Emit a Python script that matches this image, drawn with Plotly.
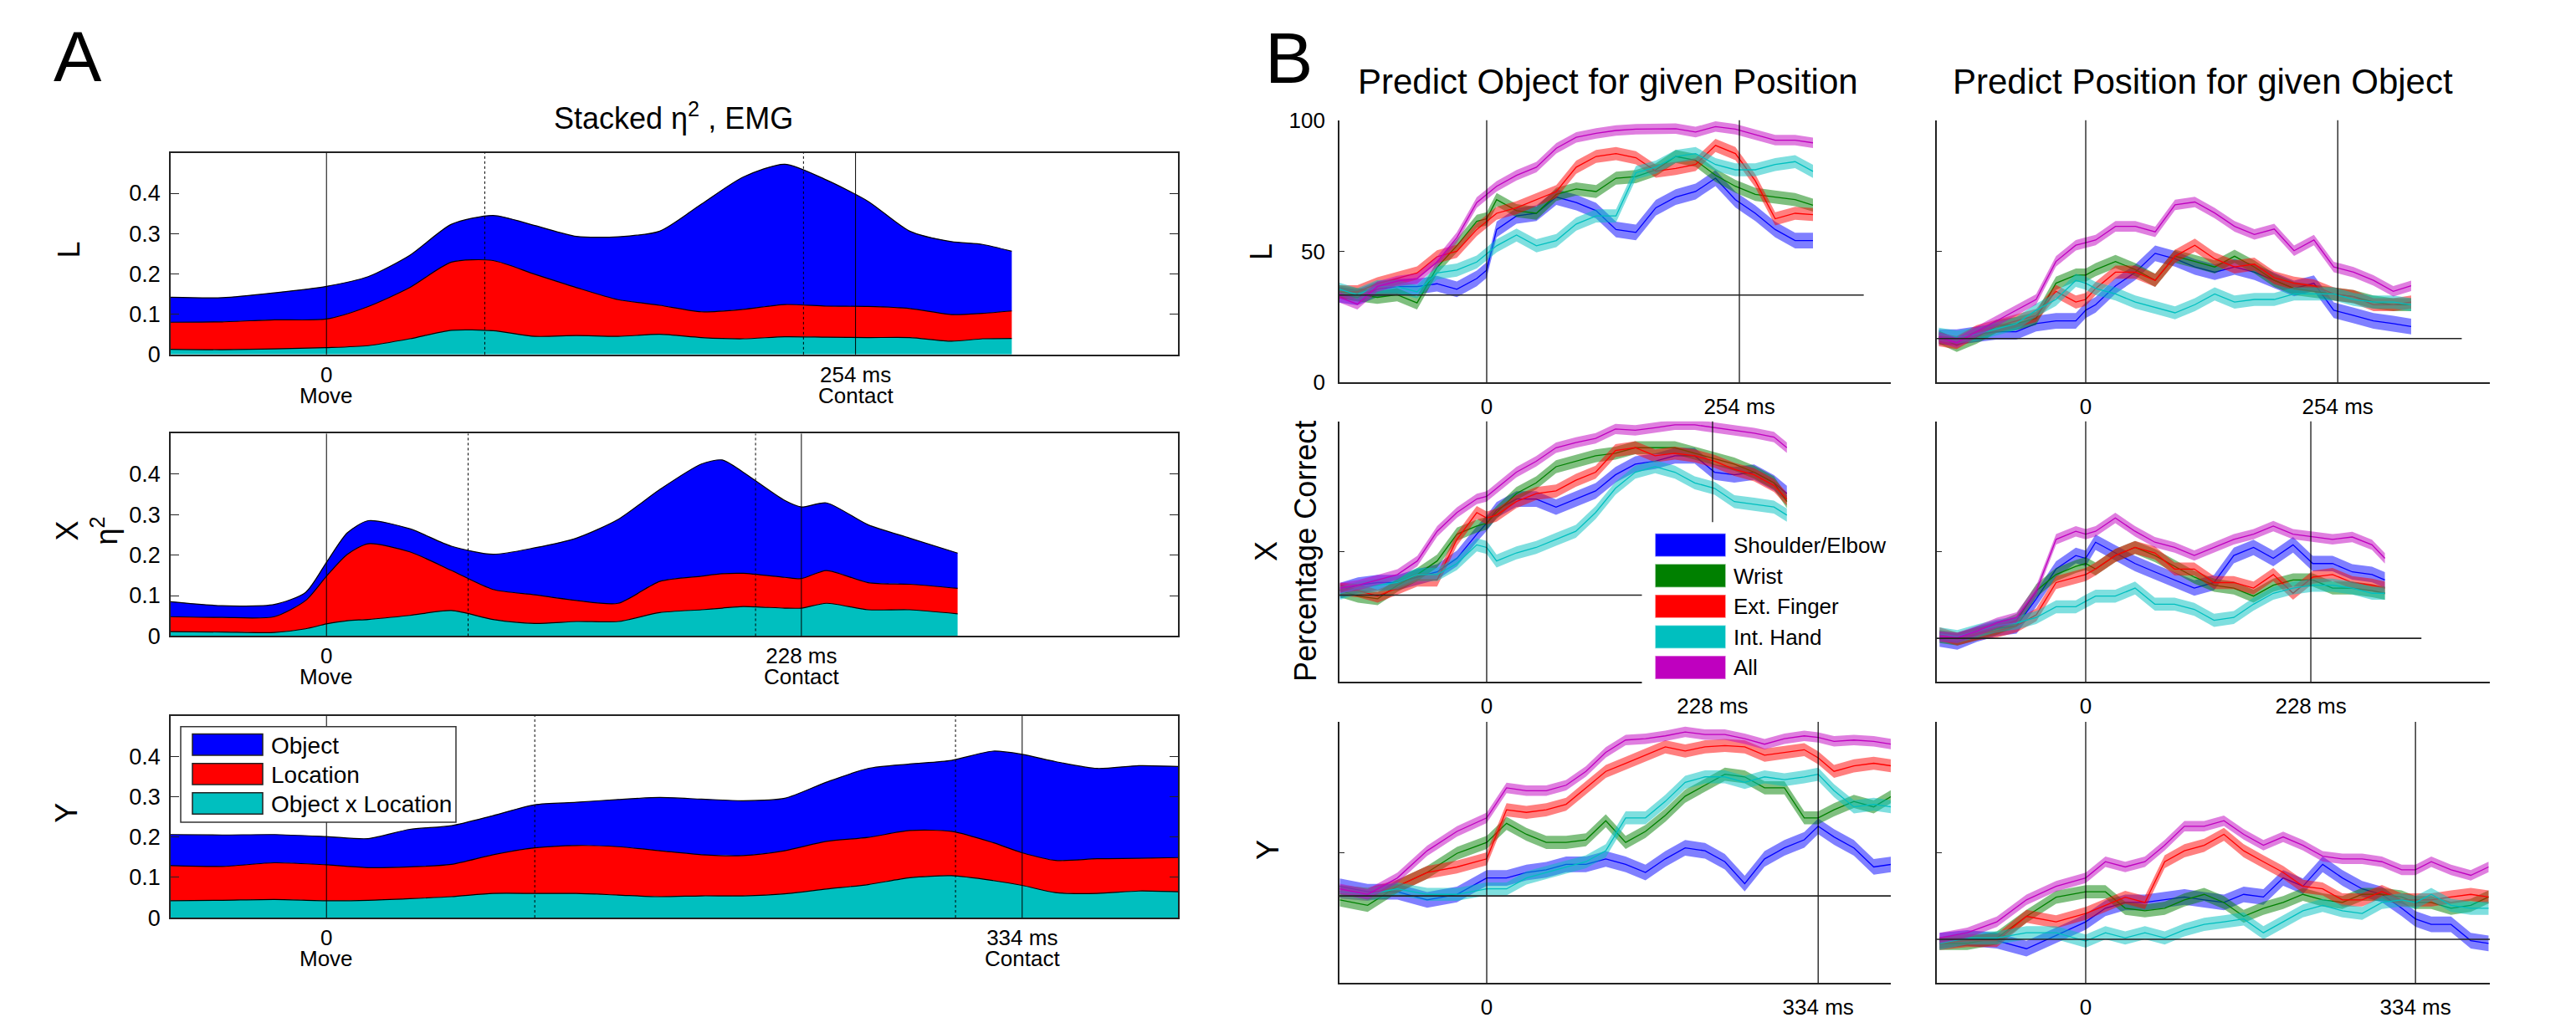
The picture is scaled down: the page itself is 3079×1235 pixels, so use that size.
import plotly.graph_objects as go

W, H = 3079, 1235
FONT = "Liberation Sans, Arial, Helvetica, sans-serif"


def fx(p):
    return p / W


def fy(p):
    return 1 - p / H


# ---------------- Panel A : stacked eta^2 (EMG) ----------------
A_NAMES = ["Object", "Location", "Object x Location"]
A_COLORS = ["#0000FF", "#FF0000", "#00BFBF"]

AL_T = [-75, -50, -25, 0, 20, 40, 60, 80, 100, 120, 140, 160, 180, 200, 220, 240, 260, 280, 300, 315, 329]
AL_INTER = [0.013, 0.012, 0.014, 0.017, 0.022, 0.039, 0.060, 0.059, 0.045, 0.047, 0.045, 0.050, 0.042, 0.039,
            0.044, 0.043, 0.042, 0.042, 0.033, 0.039, 0.040]
AL_LOC = [0.067, 0.069, 0.072, 0.071, 0.097, 0.127, 0.169, 0.174, 0.154, 0.119, 0.091, 0.072, 0.064, 0.073,
          0.080, 0.077, 0.077, 0.072, 0.066, 0.063, 0.068]
AL_OBJ = [0.062, 0.060, 0.067, 0.081, 0.074, 0.080, 0.094, 0.112, 0.121, 0.127, 0.156, 0.184, 0.267, 0.328,
          0.348, 0.313, 0.261, 0.192, 0.181, 0.171, 0.148]

AX_T = [-75, -50, -25, -10, 0, 10, 20, 40, 60, 80, 100, 120, 140, 160, 180, 190, 200, 220, 228, 240, 260, 280, 303]
AX_INTER = [0.011, 0.010, 0.009, 0.018, 0.030, 0.038, 0.041, 0.051, 0.063, 0.041, 0.031, 0.036, 0.036, 0.058,
            0.065, 0.069, 0.073, 0.069, 0.069, 0.081, 0.065, 0.065, 0.055]
AX_LOC = [0.037, 0.036, 0.039, 0.070, 0.118, 0.164, 0.187, 0.157, 0.099, 0.074, 0.071, 0.052, 0.045, 0.077,
          0.083, 0.085, 0.082, 0.076, 0.073, 0.081, 0.067, 0.063, 0.063]
AX_OBJ = [0.037, 0.029, 0.030, 0.020, 0.034, 0.053, 0.057, 0.057, 0.060, 0.087, 0.116, 0.154, 0.207, 0.227,
          0.277, 0.281, 0.250, 0.190, 0.177, 0.167, 0.143, 0.114, 0.087]

AY_T = [-75, -50, -25, 0, 20, 40, 60, 80, 100, 120, 140, 160, 180, 200, 220, 240, 260, 280, 300, 320, 334, 350,
        370, 390, 409]
AY_INTER = [0.042, 0.043, 0.045, 0.042, 0.043, 0.047, 0.052, 0.060, 0.060, 0.060, 0.056, 0.052, 0.054, 0.054,
            0.059, 0.071, 0.082, 0.099, 0.104, 0.092, 0.080, 0.062, 0.060, 0.066, 0.064]
AY_LOC = [0.087, 0.084, 0.091, 0.089, 0.081, 0.079, 0.080, 0.096, 0.113, 0.119, 0.120, 0.114, 0.102, 0.100,
          0.107, 0.118, 0.117, 0.117, 0.110, 0.094, 0.081, 0.080, 0.086, 0.081, 0.085]
AY_OBJ = [0.077, 0.078, 0.070, 0.070, 0.072, 0.093, 0.096, 0.097, 0.107, 0.107, 0.117, 0.132, 0.138, 0.136,
          0.130, 0.147, 0.171, 0.165, 0.176, 0.227, 0.244, 0.245, 0.224, 0.230, 0.226]

A_ROW_LABELS = ["L", "X<br>η<sup>2</sup>", "Y"]
A_CONTACT = [254, 228, 334]
A_DOTTED_1 = [76, 68, 100]
A_DOTTED_2 = [229, 206, 302]
A_XRANGE = [-74.8, 408.8]
A_YRANGE = [0, 0.5]
A_YTICKS = [0, 0.1, 0.2, 0.3, 0.4]
A_YTICKTEXT = ["0", "0.1", "0.2", "0.3", "0.4"]

# ---------------- Panel B : decoding accuracy (% correct) ----------------
B_NAMES = ["Shoulder/Elbow", "Wrist", "Ext. Finger", "Int. Hand", "All"]
B_COLORS = ["#0000FF", "#008000", "#FF0000", "#00BFBF", "#BF00BF"]
B_BANDS = ["rgba(0,0,255,0.5)", "rgba(0,128,0,0.5)", "rgba(255,0,0,0.5)", "rgba(0,191,191,0.5)",
           "rgba(191,0,191,0.5)"]
B_HALF_WIDTH = [3.0, 2.5, 2.5, 2.5, 2.0]

TL = [-148, -130, -110, -90, -70, -50, -30, -10, 0, 10, 30, 50, 70, 90, 110, 130, 150, 170, 190, 210, 230, 250,
      270, 290, 310, 328]
OBJ_L_SE = [33.4, 32.4, 35.5, 36.5, 36.5, 37.6, 35.5, 39.6, 42.8, 58.3, 63.5, 64.5, 70.7, 68.6, 65.5, 58.3, 57.2,
            66.6, 70.7, 72.8, 77.9, 69.7, 64.5, 58.3, 54.1, 54.1]
OBJ_L_WR = [34.5, 33.4, 32.4, 33.4, 30.3, 43.8, 52.1, 61.4, 62.4, 69.7, 65.5, 64.5, 71.7, 73.8, 72.8, 77.9, 78.5,
            81.1, 86.2, 84.7, 79.0, 74.8, 71.7, 70.7, 69.7, 67.6]
OBJ_L_EF = [34.5, 34.5, 37.6, 39.6, 41.7, 47.9, 50.0, 58.3, 61.4, 64.5, 66.6, 69.7, 72.8, 82.1, 86.2, 87.3, 85.7,
            80.6, 81.6, 83.1, 90.4, 87.3, 76.9, 62.4, 64.5, 64.0]
OBJ_L_IH = [35.5, 33.4, 36.5, 36.5, 34.5, 41.7, 42.8, 45.9, 49.0, 52.1, 56.2, 52.1, 54.1, 60.4, 63.5, 63.5, 80.0,
            82.1, 86.2, 87.3, 83.1, 81.1, 81.1, 83.1, 84.2, 80.5]
OBJ_L_ALL = [32.4, 29.8, 36.5, 38.6, 39.6, 45.9, 55.2, 68.6, 71.7, 74.8, 79.0, 82.1, 89.3, 93.5, 95.0, 96.1, 96.6,
             96.8, 96.8, 95.5, 97.6, 96.6, 94.5, 92.4, 92.4, 91.4]

POS_L_SE = [17.2, 17.2, 18.3, 19.3, 19.3, 22.4, 23.4, 23.4, 27.5, 29.6, 36.8, 42.0, 49.2, 47.1, 44.0, 42.0, 44.0,
            42.0, 38.9, 35.8, 37.8, 27.5, 25.5, 23.4, 22.4, 21.3]
POS_L_WR = [17.2, 14.1, 17.2, 21.3, 22.4, 24.4, 37.8, 40.9, 40.9, 43.0, 46.1, 43.0, 38.9, 48.1, 46.1, 44.0, 48.1,
            44.0, 38.9, 35.8, 34.7, 33.7, 32.7, 30.6, 29.6, 29.6]
POS_L_EF = [16.2, 15.1, 19.3, 21.3, 23.4, 25.5, 34.7, 30.6, 31.6, 35.8, 42.0, 42.0, 38.9, 48.1, 52.3, 47.1, 44.0,
            45.1, 39.9, 37.8, 36.8, 33.7, 32.7, 29.6, 29.6, 30.6]
POS_L_IH = [18.3, 17.2, 18.3, 20.3, 22.4, 27.5, 31.6, 38.9, 37.8, 35.8, 33.7, 30.6, 28.6, 26.5, 29.6, 33.7, 30.6,
            31.6, 31.6, 33.7, 33.7, 33.7, 31.6, 30.6, 30.6, 29.6]
POS_L_ALL = [17.2, 15.1, 19.3, 23.4, 27.5, 31.6, 46.1, 52.3, 53.3, 54.3, 59.5, 59.5, 57.4, 67.7, 68.8, 64.6, 59.5,
             56.4, 58.5, 50.2, 54.3, 44.0, 42.0, 38.9, 34.7, 36.8]

TX = [-148, -130, -110, -90, -70, -50, -30, -10, 0, 10, 30, 50, 70, 90, 110, 130, 150, 170, 190, 210, 230, 250,
      270, 290, 303]
OBJ_X_SE = [35.0, 37.1, 38.1, 38.1, 40.2, 42.2, 47.4, 56.7, 60.9, 66.0, 70.2, 70.2, 67.1, 70.2, 73.3, 79.5, 83.6,
            84.7, 86.8, 86.8, 80.5, 79.5, 80.5, 76.4, 72.3]
OBJ_X_WR = [35.0, 32.9, 31.9, 37.1, 41.2, 46.4, 56.7, 59.8, 60.9, 65.0, 72.3, 76.4, 82.6, 84.7, 86.8, 87.8, 89.9,
            89.9, 89.9, 87.8, 85.7, 83.6, 80.5, 76.4, 69.2]
OBJ_X_EF = [35.5, 35.0, 32.9, 36.0, 39.1, 39.1, 54.7, 65.0, 62.9, 64.0, 69.2, 72.3, 73.3, 77.4, 80.5, 88.8, 89.9,
            86.8, 87.8, 86.8, 84.7, 81.6, 79.5, 75.4, 70.2]
OBJ_X_IH = [34.0, 36.0, 37.1, 38.1, 41.2, 41.2, 45.4, 52.6, 51.6, 46.4, 49.5, 51.6, 54.7, 57.8, 65.0, 74.3, 80.5,
            82.6, 80.5, 76.4, 74.3, 69.2, 68.2, 67.1, 64.0]
OBJ_X_ALL = [36.0, 37.1, 39.1, 41.2, 46.4, 57.8, 65.0, 70.2, 71.2, 74.3, 80.5, 84.7, 89.9, 91.9, 93.5, 97.1, 96.6,
             97.6, 98.7, 98.7, 97.6, 96.6, 95.5, 94.0, 89.9]

POS_X_SE = [16.4, 15.3, 18.4, 20.5, 21.5, 31.9, 43.3, 48.5, 47.4, 53.6, 49.5, 45.4, 42.2, 39.1, 36.0, 38.1, 48.5,
            51.6, 47.4, 52.6, 45.4, 45.4, 42.2, 41.2, 39.1]
POS_X_WR = [17.4, 16.4, 18.4, 20.5, 23.6, 35.0, 41.2, 44.3, 45.4, 43.3, 48.5, 51.6, 48.5, 44.3, 40.2, 37.1, 36.0,
            32.9, 37.1, 39.1, 39.1, 36.0, 36.0, 35.0, 34.0]
POS_X_EF = [18.4, 16.4, 18.4, 19.5, 21.5, 25.7, 38.1, 40.2, 41.2, 43.3, 48.5, 51.6, 49.5, 43.3, 43.3, 38.1, 38.1,
            36.0, 41.2, 34.0, 40.2, 41.2, 38.1, 37.1, 36.0]
POS_X_IH = [18.4, 17.4, 19.5, 21.5, 22.6, 24.7, 28.8, 28.8, 30.9, 32.9, 32.9, 36.0, 29.8, 29.8, 27.8, 23.6, 24.7,
            29.8, 34.0, 36.0, 37.1, 37.1, 36.0, 34.0, 34.0]
POS_X_ALL = [17.4, 16.9, 19.5, 22.6, 24.7, 35.0, 54.7, 57.8, 56.7, 57.8, 62.9, 57.8, 53.6, 51.6, 48.5, 51.6, 54.7,
             56.7, 59.8, 56.7, 55.6, 54.7, 55.6, 52.6, 47.4]

TY = [-148, -120, -90, -60, -30, 0, 20, 40, 60, 80, 100, 120, 140, 160, 180, 200, 220, 240, 260, 280, 300, 320,
      334, 350, 370, 390, 408]
OBJ_Y_SE = [37.0, 34.9, 34.9, 31.8, 33.9, 40.2, 40.2, 42.3, 43.3, 45.4, 45.4, 47.5, 45.4, 42.3, 47.5, 51.7, 50.6,
            46.4, 38.0, 47.5, 51.7, 54.8, 60.0, 55.9, 51.7, 44.4, 45.4]
OBJ_Y_WR = [31.8, 29.7, 37.0, 42.3, 49.6, 53.8, 61.1, 56.9, 53.8, 53.8, 54.8, 62.1, 53.8, 58.0, 64.2, 71.5, 75.7,
            79.9, 78.9, 74.7, 74.7, 63.2, 63.2, 66.3, 69.5, 67.4, 71.5]
OBJ_Y_EF = [34.9, 33.9, 37.0, 42.3, 44.4, 47.5, 66.3, 65.3, 66.3, 68.4, 74.7, 81.0, 84.1, 87.2, 90.4, 88.8, 90.4,
            90.9, 90.4, 87.2, 88.3, 89.3, 86.2, 81.0, 83.1, 84.1, 83.1]
OBJ_Y_IH = [34.9, 33.9, 36.0, 33.9, 33.9, 36.0, 36.0, 40.2, 42.3, 44.4, 46.4, 50.6, 63.2, 63.2, 69.5, 76.8, 78.9,
            78.9, 76.8, 78.9, 77.8, 78.9, 79.9, 73.6, 67.4, 68.4, 67.4]
OBJ_Y_ALL = [36.0, 33.9, 40.2, 50.6, 58.0, 63.2, 74.7, 73.6, 73.6, 75.7, 81.0, 88.3, 93.0, 93.5, 94.6, 96.1, 95.1,
             95.1, 93.5, 91.4, 93.5, 94.6, 94.0, 92.5, 93.0, 92.5, 91.4]

POS_Y_SE = [16.2, 17.2, 16.2, 13.1, 18.2, 23.4, 28.6, 30.8, 30.8, 31.8, 32.9, 31.8, 30.8, 33.9, 32.9, 40.2, 37.0,
            45.4, 40.2, 36.0, 33.9, 28.6, 24.5, 22.4, 22.4, 16.2, 15.1]
POS_Y_WR = [15.1, 15.1, 17.2, 25.5, 32.8, 34.9, 34.9, 28.6, 27.6, 28.6, 31.8, 33.9, 30.8, 25.5, 28.6, 30.8, 33.9,
            31.8, 30.8, 33.9, 33.9, 32.9, 30.8, 30.8, 28.6, 29.7, 32.9]
POS_Y_EF = [15.1, 16.2, 16.2, 25.5, 23.4, 26.6, 29.7, 32.8, 30.8, 46.4, 50.6, 52.7, 56.9, 50.6, 46.4, 42.3, 37.0,
            36.0, 31.8, 31.8, 35.0, 31.8, 31.8, 31.8, 32.9, 33.9, 32.9]
POS_Y_IH = [15.1, 17.2, 17.2, 19.2, 19.2, 16.0, 19.2, 17.2, 19.2, 17.2, 20.3, 22.4, 23.4, 24.5, 19.2, 23.4, 27.6,
            29.7, 27.6, 26.6, 30.8, 31.8, 30.8, 33.9, 29.7, 28.6, 28.6]
POS_Y_ALL = [17.2, 19.2, 23.4, 31.8, 37.0, 40.2, 46.4, 44.4, 46.4, 52.7, 60.0, 60.0, 62.1, 56.9, 52.7, 55.9, 52.7,
             48.5, 47.5, 47.5, 46.4, 43.3, 43.3, 46.4, 43.3, 41.2, 44.4]

B_TITLES = ["Predict Object for given Position", "Predict Position for given Object"]
B_ROW_LABELS = ["L", "X<br>Percentage Correct", "Y"]
B_CONTACT = [254, 228, 334]
B_CHANCE = [33.3, 16.7]
B_CHANCE_END = [379, 340, None]
B_XRANGE_LEFT = [[-148.0, 406.2], [-148.6, 407.9], [-148.4, 407.2]]
B_XRANGE_RIGHT = [[-150.1, 407.3], [-150.8, 409.3], [-150.8, 409.3]]
B_YTICKS = [0, 50, 100]

# ---------------- layout geometry (pixels) ----------------
A_X_PX = (204, 1408)
A_ROWS_PX = [(172, 419), (516, 764), (862, 1109)]
B_COLS_PX = [(1601, 2260), (2315, 2976)]
B_ROWS_PX = [(132, 453), (501, 820), (869, 1189)]

fig = go.Figure()
layout = dict(width=W, height=H, margin=dict(l=0, r=0, t=0, b=0), paper_bgcolor="white",
              plot_bgcolor="rgba(0,0,0,0)", showlegend=False, font=dict(family=FONT, color="black"))
shapes = []
annotations = []


def ann(text, x, y, size, xref="paper", yref="paper", xanchor="center", yanchor="middle", angle=0):
    annotations.append(dict(text=text, x=x, y=y, xref=xref, yref=yref, showarrow=False, xanchor=xanchor,
                            yanchor=yanchor, textangle=angle, font=dict(size=size, family=FONT, color="black")))


# ---- Panel A ----
A_DATA = [(AL_T, AL_INTER, AL_LOC, AL_OBJ), (AX_T, AX_INTER, AX_LOC, AX_OBJ), (AY_T, AY_INTER, AY_LOC, AY_OBJ)]
for i, (t, inter, loc, obj) in enumerate(A_DATA):
    n = i + 1
    xa, ya = ("x" if n == 1 else f"x{n}"), ("y" if n == 1 else f"y{n}")
    for vals, col in ((inter, A_COLORS[2]), (loc, A_COLORS[1]), (obj, A_COLORS[0])):
        fig.add_trace(go.Scatter(x=t, y=vals, xaxis=xa, yaxis=ya, stackgroup=f"A{n}", mode="lines",
                                 line=dict(color="black", width=1.2, shape="spline", smoothing=0.7),
                                 fillcolor=col, hoverinfo="skip"))
    top, bot = A_ROWS_PX[i]
    layout[f"xaxis{n if n > 1 else ''}"] = dict(
        domain=[fx(A_X_PX[0]), fx(A_X_PX[1])], anchor=ya, range=A_XRANGE, showline=True, mirror=True,
        linecolor="#222", linewidth=1.6, ticks="", showgrid=False, zeroline=False,
        tickvals=[0, A_CONTACT[i]], ticktext=["0", f"{A_CONTACT[i]} ms"], tickfont=dict(size=26),
        ticklabelstandoff=0)
    layout[f"yaxis{n if n > 1 else ''}"] = dict(
        domain=[fy(bot), fy(top)], anchor=xa, range=A_YRANGE, showline=True, mirror="ticks",
        linecolor="#222", linewidth=1.6, ticks="inside", ticklen=10, tickcolor="#222", showgrid=False,
        zeroline=False, tickvals=A_YTICKS, ticktext=A_YTICKTEXT, tickfont=dict(size=27), ticklabelstandoff=5)
    for tv, dash in ((0, "solid"), (A_CONTACT[i], "solid"), (A_DOTTED_1[i], "dot"), (A_DOTTED_2[i], "dot")):
        shapes.append(dict(type="line", xref=xa, yref=f"{ya} domain", x0=tv, x1=tv, y0=0, y1=1, layer="above",
                           line=dict(color="black", width=1, dash=dash)))
    ann("Move", 0, fy(bot + 50), 26, xref=xa)
    ann("Contact", A_CONTACT[i], fy(bot + 50), 26, xref=xa)
    ann(A_ROW_LABELS[i], fx([82, 104, 80][i]), fy((top + bot) / 2 - 5), 36, angle=-90)

ann("Stacked η<sup>2</sup> , EMG", fx(805), fy(127), 36)
ann("A", fx(93), fy(53), 86)

# Panel A legend (drawn)
shapes.append(dict(type="rect", xref="paper", yref="paper", x0=fx(216), x1=fx(545), y0=fy(992), y1=fy(875),
                   fillcolor="white", line=dict(color="#333", width=1.5), layer="above"))
for k, (name, col) in enumerate(zip(A_NAMES, A_COLORS)):
    y0 = 884 + 36 * k
    shapes.append(dict(type="rect", xref="paper", yref="paper", x0=fx(230), x1=fx(314), y0=fy(y0 + 26),
                       y1=fy(y0), fillcolor=col, line=dict(color="#222", width=1.5), layer="above"))
    ann(name, fx(322), fy(y0 + 14), 28, xanchor="left")

# ---- Panel B ----
B_DATA = [
    [(TL, [OBJ_L_SE, OBJ_L_WR, OBJ_L_EF, OBJ_L_IH, OBJ_L_ALL]), (TL, [POS_L_SE, POS_L_WR, POS_L_EF, POS_L_IH, POS_L_ALL])],
    [(TX, [OBJ_X_SE, OBJ_X_WR, OBJ_X_EF, OBJ_X_IH, OBJ_X_ALL]), (TX, [POS_X_SE, POS_X_WR, POS_X_EF, POS_X_IH, POS_X_ALL])],
    [(TY, [OBJ_Y_SE, OBJ_Y_WR, OBJ_Y_EF, OBJ_Y_IH, OBJ_Y_ALL]), (TY, [POS_Y_SE, POS_Y_WR, POS_Y_EF, POS_Y_IH, POS_Y_ALL])],
]
n = 4
for r in range(3):
    top, bot = B_ROWS_PX[r]
    for c in range(2):
        xa, ya = f"x{n}", f"y{n}"
        t, series = B_DATA[r][c]
        for s, vals in enumerate(series):
            hw = B_HALF_WIDTH[s]
            upper = [v + hw for v in vals]
            lower = [v - hw for v in vals]
            fig.add_trace(go.Scatter(x=list(t) + list(t)[::-1], y=upper + lower[::-1], xaxis=xa, yaxis=ya,
                                     fill="toself", fillcolor=B_BANDS[s], line=dict(width=0), mode="lines",
                                     hoverinfo="skip"))
            fig.add_trace(go.Scatter(x=t, y=vals, xaxis=xa, yaxis=ya, mode="lines",
                                     line=dict(color=B_COLORS[s], width=1.3), hoverinfo="skip"))
        xr = (B_XRANGE_LEFT if c == 0 else B_XRANGE_RIGHT)[r]
        left, right = B_COLS_PX[c]
        layout[f"xaxis{n}"] = dict(
            domain=[fx(left), fx(right)], anchor=ya, range=xr, showline=True, mirror=False, linecolor="#222",
            linewidth=1.6, ticks="", showgrid=False, zeroline=False, tickvals=[0, B_CONTACT[r]],
            ticktext=["0", f"{B_CONTACT[r]} ms"], tickfont=dict(size=26), ticklabelstandoff=5)
        layout[f"yaxis{n}"] = dict(
            domain=[fy(bot), fy(top)], anchor=xa, range=[0, 100], showline=True, linecolor="#222", linewidth=1.6,
            ticks="inside", ticklen=6, tickcolor="#222", showgrid=False, zeroline=False, tickvals=B_YTICKS,
            showticklabels=(r == 0 and c == 0), tickfont=dict(size=26), ticklabelstandoff=10)
        for tv in (0, B_CONTACT[r]):
            shapes.append(dict(type="line", xref=xa, yref=f"{ya} domain", x0=tv, x1=tv, y0=0, y1=1, layer="above",
                               line=dict(color="black", width=1.2)))
        x_end = B_CHANCE_END[r] if B_CHANCE_END[r] is not None else xr[1]
        shapes.append(dict(type="line", xref=xa, yref=ya, x0=xr[0], x1=x_end, y0=B_CHANCE[c], y1=B_CHANCE[c],
                           layer="above", line=dict(color="#222", width=1.6)))
        n += 1
    ann(B_ROW_LABELS[r], fx([1508, 1537, 1515][r]), fy([298, 665, 1031][r] - 5), 36, angle=-90)

ann(B_TITLES[0], fx(1922), fy(85), 42)
ann(B_TITLES[1], fx(2633), fy(85), 42)
ann("B", fx(1540), fy(55), 86)

# Panel B legend (drawn, covers lower right of the X / object panel)
shapes.append(dict(type="rect", xref="paper", yref="paper", x0=fx(1963), x1=fx(2270), y0=fy(827), y1=fy(625),
                   fillcolor="white", line=dict(color="white", width=1), layer="above"))
for k, (name, col) in enumerate(zip(B_NAMES, B_COLORS)):
    y0 = 639 + 37.5 * k
    shapes.append(dict(type="rect", xref="paper", yref="paper", x0=fx(1979), x1=fx(2062), y0=fy(y0 + 27),
                       y1=fy(y0), fillcolor=col, line=dict(color=B_BANDS[k], width=1.5), layer="above"))
    ann(name, fx(2070), fy(y0 + 14), 26, xanchor="left")

layout["shapes"] = shapes
layout["annotations"] = annotations
fig.update_layout(**layout)
fig.write_html("out.html")
